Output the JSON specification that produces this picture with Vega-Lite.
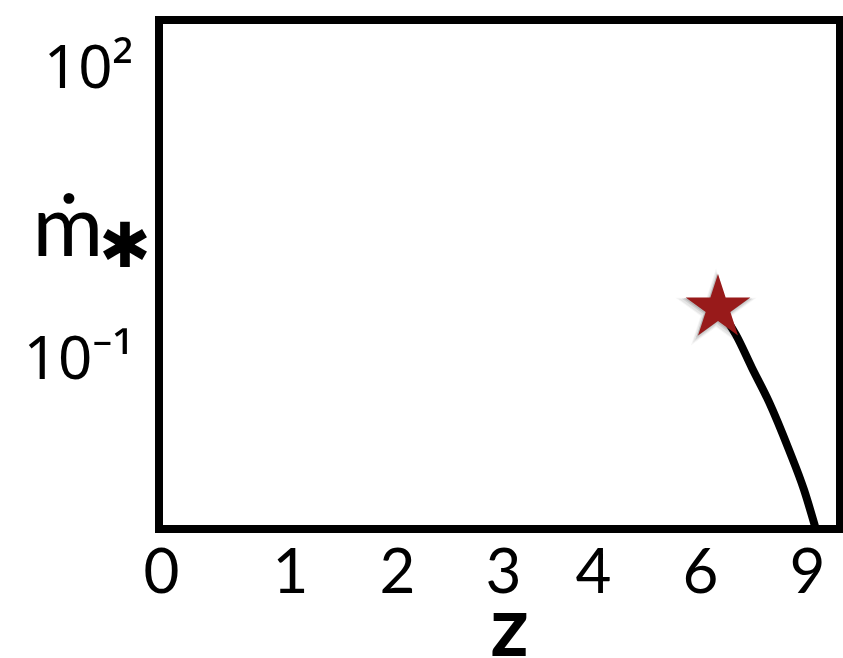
{
  "$schema": "https://vega.github.io/schema/vega-lite/v6.json",
  "width": 681,
  "height": 509,
  "autosize": {"type": "none"},
  "padding": {"left": 159, "top": 20, "right": 3, "bottom": 129},
  "background": "white",
  "view": {"stroke": "black", "strokeWidth": 8},
  "config": {
    "font": "Lato",
    "axis": {"grid": false, "ticks": false, "domain": false, "labelColor": "black", "titleColor": "black"}
  },
  "datasets": {
    "track": [
      {"z": 6.505, "mdot": 0.346},
      {"z": 7.009, "mdot": 0.182},
      {"z": 7.458, "mdot": 0.0828},
      {"z": 7.934, "mdot": 0.0369},
      {"z": 8.495, "mdot": 0.01175},
      {"z": 8.916, "mdot": 0.004539},
      {"z": 9.196, "mdot": 0.002066},
      {"z": 9.392, "mdot": 0.00114}
    ],
    "origin": [{"z": 6.505, "mdot": 0.346}]
  },
  "encoding": {
    "x": {
      "field": "z",
      "type": "quantitative",
      "scale": {"type": "linear", "domain": [0, 1, 2, 3, 4, 6, 9, 9.92], "range": [2, 131, 238, 344, 434, 541, 648, 681], "nice": false, "zero": false},
      "axis": {
        "values": [0, 1, 2, 3, 4, 6, 9],
        "labelFontSize": 62,
        "labelPadding": 14,
        "labelFlush": false,
        "labelOverlap": false,
        "title": "z",
        "titleFontSize": 84,
        "titleFontWeight": "bold",
        "titleX": 350,
        "titleY": 126,
        "titleBaseline": "alphabetic"
      }
    }
  },
  "resolve": {"axis": {"y": "independent"}},
  "layer": [
    {
      "data": {"name": "track"},
      "mark": {"type": "line", "color": "black", "strokeWidth": 8, "clip": true, "interpolate": "monotone"},
      "encoding": {
        "y": {
          "field": "mdot",
          "type": "quantitative",
          "scale": {"type": "log", "domain": [0.001786, 328.9], "nice": false},
          "axis": {
            "values": [0.1, 100],
            "labelExpr": "datum.value == 100 ? '10²' : '10⁻¹'",
            "labelFont": "Noto Sans",
            "labelFontSize": 60,
            "labelPadding": 26,
            "labelBaseline": "middle",
            "title": "ṁ",
            "titleFontSize": 86,
            "titleFontWeight": "normal",
            "titleAngle": 0,
            "titleAlign": "left",
            "titleBaseline": "alphabetic",
            "titleX": -127,
            "titleY": 235
          }
        }
      }
    },
    {
      "data": {"name": "origin"},
      "mark": {"type": "point", "shape": "M0,-1L0.2245,-0.309L0.951,-0.309L0.363,0.118L0.588,0.809L0,0.382L-0.588,0.809L-0.363,0.118L-0.951,-0.309L-0.2245,-0.309Z", "size": 7300, "filled": true, "color": "black", "opacity": 0.04, "strokeWidth": 0, "xOffset": -2, "yOffset": 3},
      "encoding": {"y": {"field": "mdot", "type": "quantitative", "scale": {"type": "log", "domain": [0.001786, 328.9], "nice": false}, "axis": null}}
    },
    {
      "data": {"name": "origin"},
      "mark": {"type": "point", "shape": "M0,-1L0.2245,-0.309L0.951,-0.309L0.363,0.118L0.588,0.809L0,0.382L-0.588,0.809L-0.363,0.118L-0.951,-0.309L-0.2245,-0.309Z", "size": 6300, "filled": true, "color": "black", "opacity": 0.06, "strokeWidth": 0, "xOffset": -2, "yOffset": 3},
      "encoding": {"y": {"field": "mdot", "type": "quantitative", "scale": {"type": "log", "domain": [0.001786, 328.9], "nice": false}, "axis": null}}
    },
    {
      "data": {"name": "origin"},
      "mark": {"type": "point", "shape": "M0,-1L0.2245,-0.309L0.951,-0.309L0.363,0.118L0.588,0.809L0,0.382L-0.588,0.809L-0.363,0.118L-0.951,-0.309L-0.2245,-0.309Z", "size": 5500, "filled": true, "color": "black", "opacity": 0.09, "strokeWidth": 0, "xOffset": -1, "yOffset": 2},
      "encoding": {"y": {"field": "mdot", "type": "quantitative", "scale": {"type": "log", "domain": [0.001786, 328.9], "nice": false}, "axis": null}}
    },
    {
      "data": {"name": "origin"},
      "mark": {"type": "point", "shape": "M0,-1L0.2245,-0.309L0.951,-0.309L0.363,0.118L0.588,0.809L0,0.382L-0.588,0.809L-0.363,0.118L-0.951,-0.309L-0.2245,-0.309Z", "size": 4950, "filled": true, "color": "black", "opacity": 0.12, "strokeWidth": 0, "xOffset": -1, "yOffset": 1},
      "encoding": {"y": {"field": "mdot", "type": "quantitative", "scale": {"type": "log", "domain": [0.001786, 328.9], "nice": false}, "axis": null}}
    },
    {
      "data": {"name": "origin"},
      "mark": {"type": "point", "shape": "M0,-1L0.2245,-0.309L0.951,-0.309L0.363,0.118L0.588,0.809L0,0.382L-0.588,0.809L-0.363,0.118L-0.951,-0.309L-0.2245,-0.309Z", "size": 4624, "filled": true, "color": "#981a1a", "opacity": 1, "strokeWidth": 0},
      "encoding": {
        "y": {
          "field": "mdot",
          "type": "quantitative",
          "scale": {"type": "log", "domain": [0.001786, 328.9], "nice": false},
          "axis": {
            "orient": "right",
            "labels": false,
            "title": "✱",
            "titleFontSize": 62,
            "titleFontWeight": "normal",
            "titleAngle": 0,
            "titleAlign": "center",
            "titleBaseline": "middle",
            "titleX": -716,
            "titleY": 227
          }
        }
      }
    }
  ]
}
